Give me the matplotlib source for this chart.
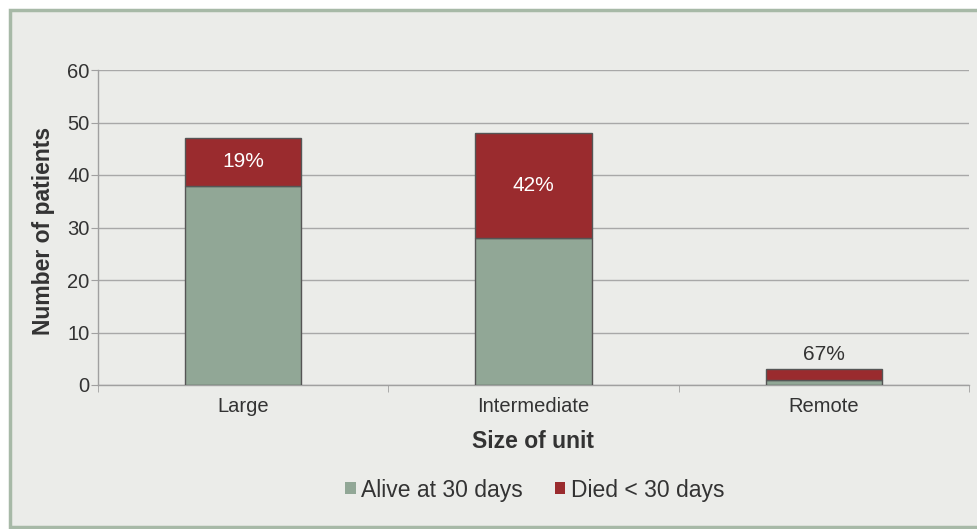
import matplotlib
matplotlib.use("Agg")
import matplotlib.pyplot as plt
from matplotlib.patches import Rectangle
import numpy as np

categories = ["Large", "Intermediate", "Remote"]
alive = [38, 28, 1]
died = [9, 20, 2]
pct_labels = ["19%", "42%", "67%"]
yticks = [0, 10, 20, 30, 40, 50, 60]

plt.rcParams['font.family'] = ['Liberation Sans', 'DejaVu Sans']

W, H = 977, 529
fig = plt.figure(figsize=(W/100, H/100), dpi=100)
fig.patch.set_facecolor('white')
bg = '#EBECE9'
# framed panel in a background axes
bax = fig.add_axes([0, 0, 1, 1], zorder=-10)
bax.set_xlim(0, W)
bax.set_ylim(H, 0)
bax.axis('off')
bax.add_patch(Rectangle((9.5, 9.5), W + 10, 527 - 9.5, facecolor=bg,
                        edgecolor='#A7B9A7', linewidth=2.5))

ax = fig.add_axes([98/W, 1 - 385/H, (969 - 98)/W, (385 - 70)/H])
ax.set_facecolor('none')

x = np.arange(len(categories))
green = '#91A796'
red = '#9A2B2E'
edge = '#555555'
ax.bar(x, alive, width=0.4, color=green, edgecolor=edge, linewidth=1.0, zorder=3,
       label='Alive at 30 days')
ax.bar(x, died, width=0.4, bottom=alive, color=red, edgecolor=edge, linewidth=1.0,
       zorder=3, label='Died < 30 days')

for i in range(len(categories)):
    total = alive[i] + died[i]
    if died[i] >= 5:
        ax.text(x[i], alive[i] + died[i] / 2, pct_labels[i], ha='center', va='center',
                color='white', fontsize=15, zorder=4)
    else:
        ax.text(x[i], total + 1.0, pct_labels[i], ha='center', va='bottom',
                color='#333333', fontsize=15, zorder=4)

ax.set_xlim(-0.5, 2.5)
ax.set_ylim(0, 60)
ax.set_yticks(yticks)
ax.yaxis.grid(True, color='#A8A8A8', linewidth=1.0, zorder=0)
ax.set_axisbelow(True)
for s in ['top', 'right']:
    ax.spines[s].set_visible(False)
for s in ['left', 'bottom']:
    ax.spines[s].set_color('#A0A0A0')
    ax.spines[s].set_linewidth(1.0)

ax.set_xticks(x)
ax.set_xticklabels(categories, fontsize=14.5, color='#333333')
ax.tick_params(axis='x', length=0, pad=9)
ax.set_xticks([-0.5, 0.5, 1.5, 2.5], minor=True)
ax.tick_params(axis='x', which='minor', length=5, color='#A0A0A0')
ax.tick_params(axis='y', length=5, color='#A0A0A0', labelsize=14.5, labelcolor='#333333', pad=1)

xl = ax.set_xlabel('Size of unit', fontsize=16.5, fontweight='bold', color='#333333')
xl.set_va('center')
ax.xaxis.set_label_coords(0.5, (385 - 441) / 315)
yl = ax.set_ylabel('Number of patients', fontsize=16.5, fontweight='bold', color='#333333')
yl.set_va('center')
ax.yaxis.set_label_coords((44 - 98) / 871, (385 - 231) / 315)

leg = fig.legend(loc='center', bbox_to_anchor=(535/W, 1 - 490/H), ncol=2, frameon=False,
                 fontsize=16.5, handlelength=0.45, handleheight=0.45, handletextpad=0.25,
                 columnspacing=1.4, labelcolor='#333333')
for h in leg.legend_handles:
    h.set_edgecolor('none')

fig.savefig('out.png', dpi=100, facecolor='white')
